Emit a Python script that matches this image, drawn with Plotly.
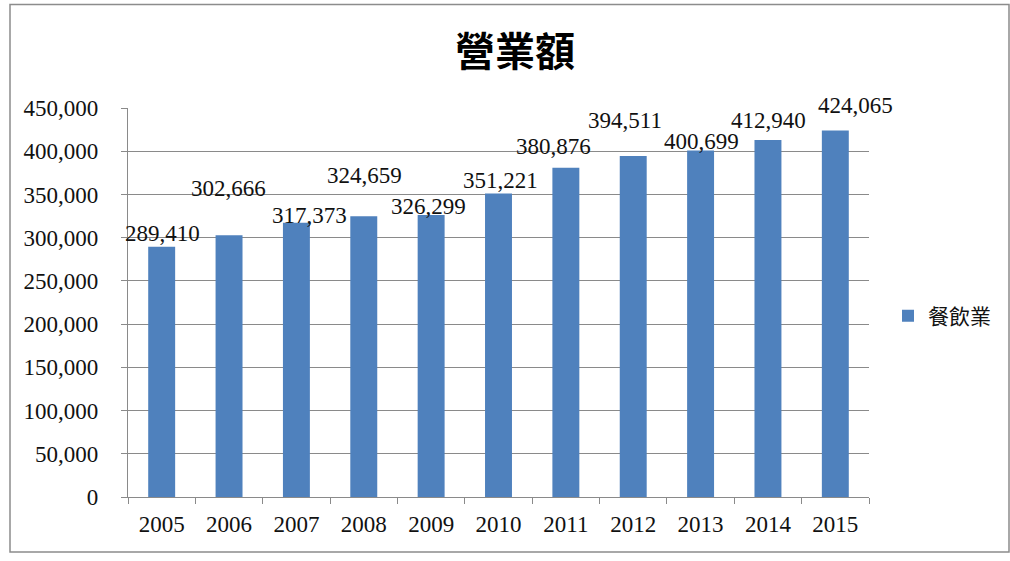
import plotly.graph_objects as go

# ---- data ----
years = ["2005", "2006", "2007", "2008", "2009", "2010", "2011", "2012", "2013", "2014", "2015"]
revenue = [289410, 302666, 317373, 324659, 326299, 351221, 380876, 394511, 400699, 412940, 424065]
series_name = "餐飲業"
title_text = "營業額"
y_ticks = [0, 50000, 100000, 150000, 200000, 250000, 300000, 350000, 400000, 450000]

# label pixel offsets relative to bar tops (manual placement as in the original)
label_dx = [1, -1, 13, 1, -3, 2, -12, -8, 1, 1, 20]
label_dy = [12, 45, 6, 39, 7, 11, 20, 34, 8, 18, 23]

W, H = 1010, 561
ML, MR, MT, MB = 128, 141, 108, 64
pw = W - ML - MR
ph = H - MT - MB

serif = "Liberation Serif, Times New Roman, serif"
cjk = "Noto Sans CJK TC, Noto Sans CJK SC, sans-serif"
grid = "#8a8a8a"
fs = 23

fig = go.Figure()
fig.add_trace(go.Bar(
    x=years, y=revenue, name=series_name,
    marker=dict(color="#4F81BD", line=dict(width=0)),
    showlegend=True,
    hoverinfo="x+y",
))

# category axes take serial indices for annotation positions
for i, (v, dx, dy) in enumerate(zip(revenue, label_dx, label_dy)):
    fig.add_annotation(
        x=i, y=v, xref="x", yref="y",
        text=f"{v:,}", showarrow=False,
        xanchor="center", yanchor="bottom",
        xshift=dx, yshift=dy - 13,
        font=dict(family=serif, size=fs, color="#111111"),
    )

# outer frame
fig.add_shape(
    type="rect", xref="paper", yref="paper",
    x0=(10 - ML) / pw, x1=(1009 - ML) / pw,
    y0=(H - MB - 552) / ph, y1=(H - MB - 4.5) / ph,
    line=dict(color="#8c8c8c", width=1.5), fillcolor="rgba(0,0,0,0)", layer="below",
)

fig.update_layout(
    width=W, height=H,
    margin=dict(l=ML, r=MR, t=MT, b=MB, autoexpand=False),
    paper_bgcolor="white", plot_bgcolor="white",
    bargap=0.6,
    title=dict(
        text=f"<b>{title_text}</b>", x=515 / W, xref="container", xanchor="center",
        y=1 - 52 / H, yref="container", yanchor="middle",
        font=dict(family=cjk, size=40, color="#000000"),
    ),
    legend=dict(
        x=(888 - ML) / pw, xanchor="left", y=(H - MB - 316) / ph, yanchor="middle",
        font=dict(family=cjk, size=21, color="#111111"),
        bgcolor="rgba(0,0,0,0)", borderwidth=0,
    ),
    xaxis=dict(
        type="category", categoryorder="array", categoryarray=years,
        range=[-0.5, len(years) - 0.5], autorange=False,
        showgrid=False, showline=True, linecolor=grid, linewidth=1.3,
        ticks="outside", tickson="boundaries", ticklen=6, tickcolor=grid, tickwidth=1.3,
        tickfont=dict(family=serif, size=fs, color="#111111"),
        tickangle=0, ticklabelstandoff=6,
    ),
    yaxis=dict(
        range=[0, 450000], tickvals=y_ticks, tickformat=",d",
        showgrid=True, gridcolor=grid, gridwidth=1.3,
        showline=True, linecolor=grid, linewidth=1.3,
        ticks="outside", ticklen=6, tickcolor=grid, tickwidth=1.3,
        tickfont=dict(family=serif, size=fs, color="#111111"),
        ticklabelstandoff=18, zeroline=False,
    ),
)

fig.write_html("out.html")
